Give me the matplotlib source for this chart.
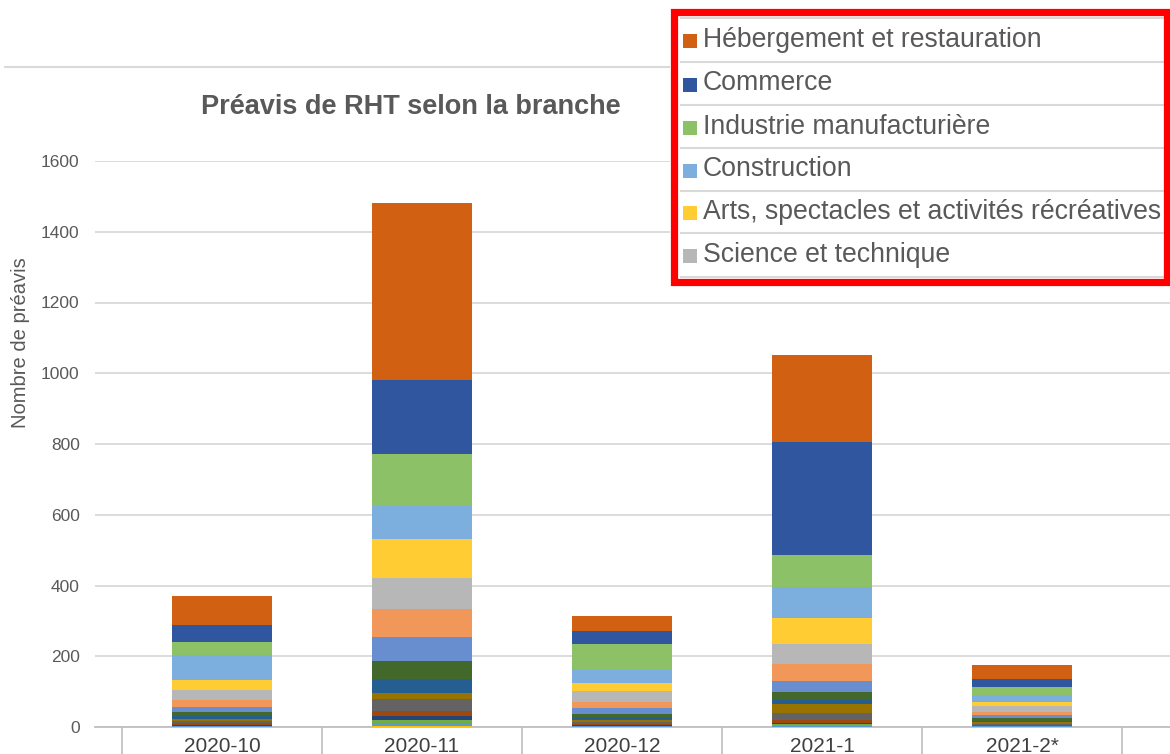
import matplotlib
matplotlib.use("Agg")
import matplotlib.pyplot as plt
from matplotlib.patches import Rectangle
from matplotlib.lines import Line2D
import numpy as np

plt.rcParams['font.family'] = ['Liberation Sans', 'DejaVu Sans']

months = ["2020-10", "2020-11", "2020-12", "2021-1", "2021-2*"]

# series from bottom to top of the stacks (unnamed small branches first)
branch_other_01 = [1, 4, 1, 1, 1]
branch_other_02 = [1, 6, 1, 5, 1]
branch_other_03 = [1, 9, 1, 2, 1]
branch_other_04 = [3, 11, 2, 4, 1]
branch_other_05 = [4, 16, 4, 8, 2]
branch_other_06 = [6, 33, 6, 20, 3]
branch_other_07 = [8, 17, 6, 25, 4]
branch_other_08 = [6, 41, 6, 11, 5]
branch_other_09 = [11, 49, 9, 24, 7]
branch_other_10 = [15, 68, 19, 30, 8]
branch_other_11 = [20, 79, 17, 47, 9]
science = [29, 88, 31, 57, 17]
arts = [28, 110, 21, 73, 11]
construction = [71, 93, 38, 90, 20]
industrie = [35, 147, 73, 90, 23]
commerce = [50, 209, 36, 319, 24]
hebergement = [82, 500, 42, 246, 38]

series = [branch_other_01, branch_other_02, branch_other_03, branch_other_04,
          branch_other_05, branch_other_06, branch_other_07, branch_other_08,
          branch_other_09, branch_other_10, branch_other_11,
          science, arts, construction, industrie, commerce, hebergement]
colors = ["#FFC000", "#5B9BD5", "#70AD47", "#264478", "#9E480E", "#636363",
          "#997300", "#255E91", "#43682B", "#698ED0", "#F1975A",
          "#B7B7B7", "#FFCD33", "#7CAFDD", "#8CC168", "#2F569E", "#D26012"]

legend_labels = ["Hébergement et restauration", "Commerce", "Industrie manufacturière",
                 "Construction", "Arts, spectacles et activités récréatives",
                 "Science et technique"]
legend_colors = ["#D26012", "#2F569E", "#8CC168", "#7CAFDD", "#FFCD33", "#B7B7B7"]

W, H = 1170, 754
fig = plt.figure(figsize=(W / 100, H / 100), dpi=100)

def fx(px):
    return px / W

def fy(py):
    return 1 - py / H

ax = fig.add_axes([fx(95), fy(727), fx(1170) - fx(95), fy(161) - fy(727)])
x = np.arange(len(months))
bottom = np.zeros(len(months))
for vals, c in zip(series, colors):
    ax.bar(x, vals, width=0.5, bottom=bottom, color=c, edgecolor="none", zorder=3)
    bottom += np.array(vals)

ax.set_ylim(0, 1600)
ax.set_xlim(-0.5 - 27 / 200, -0.5 + (1170 - 122) / 200)
ax.set_yticks(np.arange(0, 1601, 200))
ax.grid(axis="y", color="#D9D9D9", linewidth=1.3, zorder=0)
ax.tick_params(axis="y", length=0, pad=11, labelsize=12.5, labelcolor="#595959")
ax.set_xticks(x)
ax.set_xticklabels(months)
ax.tick_params(axis="x", which="major", length=0, pad=7, labelsize=15, labelcolor="#404040")
ax.set_xticks(np.arange(-0.5, len(months)), minor=True)
ax.tick_params(axis="x", which="minor", length=20, width=1.2, color="#BFBFBF")
for s in ["top", "right", "left"]:
    ax.spines[s].set_visible(False)
ax.spines["bottom"].set_color("#BFBFBF")
ax.spines["bottom"].set_linewidth(1.3)

fig.text(fx(21), fy(343), "Nombre de préavis", rotation=90, ha="center", va="center",
         fontsize=14.5, color="#595959")

fig.text(fx(411), fy(107), "Préavis de RHT selon la branche", ha="center", va="center",
         fontsize=19.5, fontweight="bold", color="#595959")

# top border line of the chart area
fig.add_artist(Line2D([fx(5), fx(670)], [fy(67), fy(67)], color="#D9D9D9", linewidth=1.5))

# legend panel
fig.add_artist(Rectangle((fx(670), fy(287)), fx(1170) - fx(670), fy(8) - fy(287),
                         facecolor="white", edgecolor="none", zorder=5))
sep_y = [18, 62, 105, 148, 191, 233, 277]
for sy in sep_y:
    fig.add_artist(Line2D([fx(681), fx(1167)], [fy(sy), fy(sy)], color="#D9D9D9",
                          linewidth=1.5, zorder=6))
for i, (lab, c) in enumerate(zip(legend_labels, legend_colors)):
    cy = (sep_y[i] + sep_y[i + 1]) / 2 + 1
    fig.add_artist(Rectangle((fx(683), fy(cy + 7)), fx(14), fy(0) - fy(14),
                             facecolor=c, edgecolor="none", zorder=7))
    fig.text(fx(703), fy(cy - 1), lab, ha="left", va="center", fontsize=19.2,
             color="#595959", zorder=7)
fig.add_artist(Rectangle((fx(673.5), fy(282.5)), fx(1166.5) - fx(673.5), fy(11.5) - fy(282.5),
                         facecolor="none", edgecolor="#FF0000", linewidth=5.2, zorder=8))

fig.savefig("out.png", dpi=100, facecolor="white")
